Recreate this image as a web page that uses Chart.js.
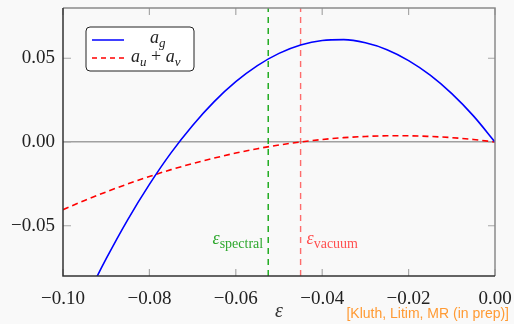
<!DOCTYPE html>
<html>
<head>
<meta charset="utf-8">
<script src="https://cdn.jsdelivr.net/npm/chart.js@4.4.1/dist/chart.umd.min.js"></script>
<style>
  html, body { margin: 0; padding: 0; background: #f9f9f9; }
  #wrap { width: 514px; height: 324px; }
</style>
</head>
<body>
<div id="wrap"><canvas id="plot"></canvas></div>
<script>
// epsilon samples
const eps = [-0.100, -0.095, -0.090, -0.085, -0.080, -0.075, -0.070, -0.065, -0.060, -0.055,
             -0.050, -0.045, -0.040, -0.035, -0.030, -0.025, -0.020, -0.015, -0.010, -0.005, 0.000];
// a_g
const aG = [-0.1232, -0.0953, -0.0697, -0.0463, -0.0253, -0.0065, 0.0099, 0.0241, 0.0360, 0.0456,
            0.0529, 0.0579, 0.0606, 0.0611, 0.0592, 0.0551, 0.0486, 0.0399, 0.0289, 0.0156, 0.0000];
// a_u + a_v
const aUV = [-0.0404, -0.0349, -0.0298, -0.0250, -0.0206, -0.0165, -0.0129, -0.0096, -0.0066, -0.0040,
             -0.0018, 0.0000, 0.0015, 0.0026, 0.0033, 0.0037, 0.0037, 0.0033, 0.0026, 0.0015, 0.0000];
// marked epsilon values
const epsSpectral = -0.0525;
const epsVacuum = -0.045;

const xTicks = [-0.10, -0.08, -0.06, -0.04, -0.02, 0.00];
const xTickLabels = ['\u22120.10', '\u22120.08', '\u22120.06', '\u22120.04', '\u22120.02', '0.00'];
const yTicks = [-0.05, 0.00, 0.05];
const yTickLabels = ['\u22120.05', '0.00', '0.05'];

const serif = '"Liberation Serif", "DejaVu Serif", serif';

function pts(ys) { return eps.map((x, i) => ({ x: x, y: ys[i] })); }
function vline(x) { return [{ x: x, y: -0.08 }, { x: x, y: 0.08 }]; }

// frame, inner tick marks, legend box and text labels
const decor = {
  id: 'decor',
  beforeDatasetsDraw(chart) {
    const c = chart.ctx, a = chart.chartArea;
    const xs = chart.scales.x, ys = chart.scales.y;
    c.save();
    c.strokeStyle = '#a8a8a8';
    c.lineWidth = 1.2;
    xTicks.forEach(v => {
      const p = xs.getPixelForValue(v);
      c.beginPath();
      c.moveTo(p, a.bottom); c.lineTo(p, a.bottom - 7);
      c.moveTo(p, a.top); c.lineTo(p, a.top + 7);
      c.stroke();
    });
    yTicks.forEach(v => {
      const p = ys.getPixelForValue(v);
      c.beginPath();
      c.moveTo(a.left, p); c.lineTo(a.left + 8, p);
      c.moveTo(a.right, p); c.lineTo(a.right - 7, p);
      c.stroke();
    });
    c.restore();
  },
  afterDatasetsDraw(chart) {
    const c = chart.ctx, a = chart.chartArea;
    const xs = chart.scales.x, ys = chart.scales.y;
    c.save();
    // frame: dark left/bottom, grey top/right
    c.lineWidth = 1.5;
    c.strokeStyle = '#8a8a8a';
    c.beginPath();
    c.moveTo(a.left, a.top); c.lineTo(a.right, a.top); c.lineTo(a.right, a.bottom);
    c.stroke();
    c.strokeStyle = '#333';
    c.beginPath();
    c.moveTo(a.left, a.top); c.lineTo(a.left, a.bottom); c.lineTo(a.right, a.bottom);
    c.stroke();

    // legend
    const lx = a.left + 23, ly = a.top + 19, lw = 108, lh = 44;
    c.beginPath();
    c.roundRect(lx, ly, lw, lh, 4);
    c.fillStyle = '#ffffff';
    c.fill();
    c.lineWidth = 1;
    c.strokeStyle = '#222';
    c.stroke();

    c.lineWidth = 1.5;
    c.strokeStyle = '#0000ff';
    c.beginPath(); c.moveTo(lx + 6, ly + 13); c.lineTo(lx + 38, ly + 13); c.stroke();
    c.strokeStyle = '#ff0000';
    c.setLineDash([5, 4]);
    c.beginPath(); c.moveTo(lx + 6, ly + 31); c.lineTo(lx + 38, ly + 31); c.stroke();
    c.setLineDash([]);

    c.fillStyle = '#222';
    c.textBaseline = 'alphabetic';
    c.textAlign = 'left';
    function sub(x, y, main, s) {
      c.font = 'italic 18px ' + serif;
      c.fillText(main, x, y);
      const w = c.measureText(main).width;
      c.font = 'italic 13px ' + serif;
      c.fillText(s, x + w, y + 4);
      return x + w + c.measureText(s).width;
    }
    sub(lx + 64, ly + 16, 'a', 'g');
    let x = sub(lx + 45, ly + 35, 'a', 'u');
    c.font = '18px ' + serif;
    c.fillText(' + ', x, ly + 35);
    x += c.measureText(' + ').width;
    sub(x, ly + 35, 'a', 'v');

    // epsilon markers
    const yb = ys.getPixelForValue(-0.061);
    function epsLabel(xp, s, align, color) {
      c.fillStyle = color;
      c.font = 'italic 18px ' + serif;
      const w1 = c.measureText('\u03b5').width;
      c.font = '14px ' + serif;
      const w2 = c.measureText(s).width;
      const x0 = align === 'right' ? xp - w1 - w2 : xp;
      c.textAlign = 'left';
      c.font = 'italic 18px ' + serif;
      c.fillText('\u03b5', x0, yb);
      c.font = '14px ' + serif;
      c.fillText(s, x0 + w1, yb + 4);
    }
    epsLabel(xs.getPixelForValue(epsSpectral) - 5, 'spectral', 'right', '#2ea82e');
    epsLabel(xs.getPixelForValue(epsVacuum) + 6, 'vacuum', 'left', '#ff5050');

    // axis title and credit line
    c.fillStyle = '#333';
    c.textAlign = 'center';
    c.font = 'italic 20px ' + serif;
    c.fillText('\u03b5', (a.left + a.right) / 2, a.bottom + 41);
    c.fillStyle = '#ff9a33';
    c.textAlign = 'right';
    c.font = '14px "Liberation Sans", Arial, sans-serif';
    c.fillText('[Kluth, Litim, MR (in prep)]', 509, 318);
    c.restore();
  }
};

new Chart(document.getElementById('plot'), {
  type: 'scatter',
  data: {
    datasets: [
      {
        label: 'a_g',
        data: pts(aG),
        showLine: true,
        borderColor: '#0000ff',
        borderWidth: 1.6,
        pointRadius: 0,
        cubicInterpolationMode: 'monotone'
      },
      {
        label: 'a_u + a_v',
        data: pts(aUV),
        showLine: true,
        borderColor: '#ff0000',
        borderWidth: 1.6,
        borderDash: [6, 4],
        pointRadius: 0,
        cubicInterpolationMode: 'monotone'
      },
      {
        label: 'spectral',
        data: vline(epsSpectral),
        showLine: true,
        borderColor: '#00a000',
        borderWidth: 1.3,
        borderDash: [6, 5],
        pointRadius: 0
      },
      {
        label: 'vacuum',
        data: vline(epsVacuum),
        showLine: true,
        borderColor: 'rgba(255, 60, 60, 0.75)',
        borderWidth: 1.4,
        borderDash: [6, 5],
        pointRadius: 0
      }
    ]
  },
  options: {
    responsive: true,
    maintainAspectRatio: false,
    animation: false,
    events: [],
    layout: { padding: { top: 8, right: 19, left: 0, bottom: 0 } },
    plugins: { legend: { display: false }, tooltip: { enabled: false } },
    scales: {
      x: {
        type: 'linear',
        min: -0.10,
        max: 0.00,
        afterBuildTicks: s => { s.ticks = xTicks.map(v => ({ value: v })); },
        afterFit: s => { s.height = 48; s.paddingLeft = 0; s.paddingRight = 0; },
        border: { display: false },
        grid: { display: false },
        ticks: {
          color: '#222',
          font: { family: serif, size: 19 },
          padding: 4,
          maxRotation: 0,
          autoSkip: false,
          callback: (v, i) => xTickLabels[i]
        }
      },
      y: {
        type: 'linear',
        min: -0.08,
        max: 0.08,
        afterBuildTicks: s => { s.ticks = yTicks.map(v => ({ value: v })); },
        afterFit: s => { s.width = 63; s.paddingTop = 0; s.paddingBottom = 0; },
        border: { display: false },
        grid: {
          drawTicks: false,
          color: ctx => ctx.tick && ctx.tick.value === 0 ? '#a0a0a0' : 'rgba(0,0,0,0)',
          lineWidth: 1.5
        },
        ticks: {
          color: '#222',
          font: { family: serif, size: 19 },
          padding: 8,
          autoSkip: false,
          callback: (v, i) => yTickLabels[i]
        }
      }
    }
  },
  plugins: [decor]
});
</script>
</body>
</html>
